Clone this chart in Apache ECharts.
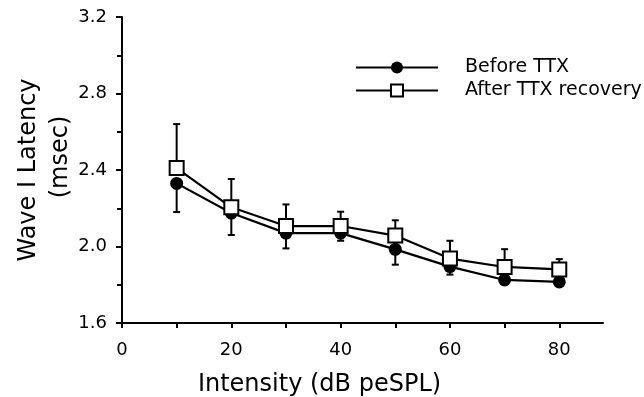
<!DOCTYPE html>
<html>
<head>
<meta charset="utf-8">
<script src="https://cdn.jsdelivr.net/npm/echarts@6/dist/echarts.min.js"></script>
<style>
html,body{margin:0;padding:0;background:#fff;}
#chart{width:644px;height:397px;}
</style>
</head>
<body>
<div id="chart"></div>
<script>
// Data
const intensities = [10, 20, 30, 40, 50, 60, 70, 80];
const beforeTTX = [2.33, 2.175, 2.07, 2.07, 1.985, 1.895, 1.825, 1.815];
const beforeSD = [0.15, 0.115, 0.08, 0.04, 0.08, 0.042, 0.02, 0.02];
const afterTTX = [2.41, 2.205, 2.107, 2.107, 2.057, 1.937, 1.893, 1.88];
const afterSD = [0.23, 0.148, 0.113, 0.075, 0.08, 0.093, 0.093, 0.054];
const xTickLabels = [0, 20, 40, 60, 80];
const xTicks = [0, 10, 20, 30, 40, 50, 60, 70, 80];
const seriesNames = ['Before TTX', 'After TTX recovery'];

const FONT = 'DejaVu Sans';

function pairs(vals) { return intensities.map((x, i) => [x, vals[i]]); }
function triples(vals, sds) { return intensities.map((x, i) => [x, vals[i], sds[i]]); }

function errRender(dir) {
  return function (params, api) {
    const x = api.value(0), y = api.value(1), sd = api.value(2);
    const p0 = api.coord([x, y]);
    const p1 = api.coord([x, y + dir * sd]);
    const hw = 3.5;
    return {
      type: 'group',
      children: [
        { type: 'line', shape: { x1: p0[0], y1: p0[1], x2: p1[0], y2: p1[1] }, style: { stroke: '#000', lineWidth: 2 } },
        { type: 'line', shape: { x1: p1[0] - hw, y1: p1[1], x2: p1[0] + hw, y2: p1[1] }, style: { stroke: '#000', lineWidth: 2 } }
      ]
    };
  };
}

const chart = echarts.init(document.getElementById('chart'), null, { renderer: 'canvas' });
chart.setOption({
  animation: false,
  backgroundColor: '#fff',
  textStyle: { fontFamily: FONT, color: '#000' },
  grid: { left: 122, right: 41, top: 17, bottom: 74, containLabel: false, outerBoundsMode: 'none' },
  legend: {
    orient: 'vertical',
    left: 350,
    top: 53,
    itemWidth: 82,
    itemHeight: 15,
    itemGap: 4,
    data: seriesNames,
    textStyle: { fontFamily: FONT, fontSize: 19, color: '#000', padding: [0, 0, 0, 22] }
  },
  xAxis: {
    type: 'value',
    min: 0,
    max: 88,
    interval: 20,
    name: 'Intensity (dB peSPL)',
    nameLocation: 'middle',
    nameGap: 50,
    nameMoveOverlap: false,
    nameTextStyle: { fontFamily: FONT, fontSize: 24, color: '#000', padding: [0, 86, 0, 0] },
    axisLine: { lineStyle: { color: '#000', width: 2 } },
    axisTick: { customValues: xTicks, length: 5, lineStyle: { color: '#000', width: 2 } },
    axisLabel: { customValues: xTickLabels, fontFamily: FONT, fontSize: 18, color: '#000', margin: 18 },
    splitLine: { show: false }
  },
  yAxis: {
    type: 'value',
    min: 1.6,
    max: 3.2,
    interval: 0.4,
    name: '{a|Wave I Latency}\n{b|(msec)}',
    nameLocation: 'middle',
    nameRotate: 90,
    nameGap: 45,
    nameMoveOverlap: false,
    nameTextStyle: {
      fontFamily: FONT, fontSize: 24, color: '#000', lineHeight: 32,
      rich: {
        a: { fontFamily: FONT, fontSize: 24, color: '#000', lineHeight: 32 },
        b: { fontFamily: FONT, fontSize: 24, color: '#000', lineHeight: 32, padding: [0, 0, 0, 26] }
      }
    },
    axisLine: { show: true, lineStyle: { color: '#000', width: 2 } },
    axisTick: { show: true, length: 6, lineStyle: { color: '#000', width: 2 } },
    minorTick: { show: true, splitNumber: 2, length: 5, lineStyle: { color: '#000', width: 2 } },
    axisLabel: { fontFamily: FONT, fontSize: 18, color: '#000', margin: 15, formatter: v => v.toFixed(1) },
    splitLine: { show: false }
  },
  series: [
    {
      type: 'custom', name: 'beforeErr', renderItem: errRender(-1),
      data: triples(beforeTTX, beforeSD), z: 1, silent: true
    },
    {
      type: 'custom', name: 'afterErr', renderItem: errRender(1),
      data: triples(afterTTX, afterSD), z: 1, silent: true
    },
    {
      type: 'line', name: seriesNames[0], data: pairs(beforeTTX), z: 2,
      symbol: 'circle', symbolSize: 13,
      lineStyle: { color: '#000', width: 2.2 },
      itemStyle: { color: '#000', borderColor: '#000', borderWidth: 0 }
    },
    {
      type: 'line', name: seriesNames[1], data: pairs(afterTTX), z: 3,
      symbol: 'rect', symbolSize: 14,
      lineStyle: { color: '#000', width: 2.2 },
      itemStyle: { color: '#fff', borderColor: '#000', borderWidth: 2 }
    }
  ]
});
</script>
</body>
</html>
